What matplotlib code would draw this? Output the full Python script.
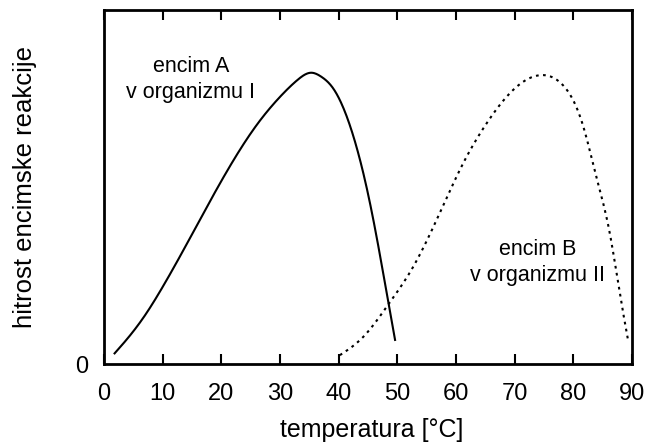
import matplotlib
matplotlib.use('Agg')
import matplotlib.pyplot as plt
import numpy as np

plt.rcParams['font.family'] = ['Liberation Sans', 'DejaVu Sans']

# enzyme A (solid)
temp_a = [1.8, 4.0, 7.0, 10.0, 14.0, 18.0, 22.0, 26.0, 30.0, 33.0, 35.3,
          37.0, 39.0, 41.0, 43.0, 45.0, 47.0, 48.5, 49.6]
rate_a = [3.0, 7.2, 13.8, 21.8, 33.6, 45.8, 57.4, 67.5, 75.5, 80.3, 82.3,
          81.2, 78.0, 71.5, 61.5, 48.0, 31.0, 17.0, 6.8]

# enzyme B (dotted)
temp_b = [40.2, 44.2, 48.4, 52.7, 57.2, 61.2, 65.2, 69.7, 74.3, 78.2, 81.7, 83.9, 86.2, 87.9, 89.3]
rate_b = [2.5, 7.7, 16.7, 27.5, 42.6, 56.7, 68.0, 77.4, 81.6, 78.8, 67.0, 52.9, 36.9, 20.0, 6.8]

xticks = [0, 10, 20, 30, 40, 50, 60, 70, 80, 90]


def spline(x, y, n=400):
    # natural cubic spline through the read points
    x = np.asarray(x, float)
    y = np.asarray(y, float)
    h = np.diff(x)
    m = len(x)
    A = np.zeros((m, m))
    r = np.zeros(m)
    A[0, 0] = A[-1, -1] = 1
    for i in range(1, m - 1):
        A[i, i - 1] = h[i - 1]
        A[i, i] = 2 * (h[i - 1] + h[i])
        A[i, i + 1] = h[i]
        r[i] = 6 * ((y[i + 1] - y[i]) / h[i] - (y[i] - y[i - 1]) / h[i - 1])
    M = np.linalg.solve(A, r)
    xs = np.linspace(x[0], x[-1], n)
    k = np.clip(np.searchsorted(x, xs) - 1, 0, m - 2)
    t = xs - x[k]
    b = (y[k + 1] - y[k]) / h[k] - h[k] * (2 * M[k] + M[k + 1]) / 6
    ys = y[k] + b * t + M[k] / 2 * t**2 + (M[k + 1] - M[k]) / (6 * h[k]) * t**3
    return xs, ys


fig = plt.figure(figsize=(6.51, 4.48), dpi=100)
ax = fig.add_axes([0.1598, 0.1875, 0.8112, 0.79])

xa, ya = spline(temp_a, rate_a)
xb, yb = spline(temp_b, rate_b)
ax.plot(xa, ya, color='black', lw=1.5)
ax.plot(xb, yb, color='black', lw=1.5, linestyle=(0, (1.3, 2.1)))

ax.set_xlim(0, 90)
ax.set_ylim(0, 100)
ax.set_xticks(xticks)
ax.set_yticks([0])
ax.tick_params(axis='x', direction='in', length=7, width=1.5, top=True,
               labelsize=17, pad=14)
ax.tick_params(axis='y', direction='in', length=0, labelsize=17, pad=11.5)
for s in ax.spines.values():
    s.set_linewidth(2.0)

ax.set_xlabel('temperatura [°C]', fontsize=18)
ax.xaxis.set_label_coords(0.506, -0.153)
ax.set_ylabel('hitrost encimske reakcije', fontsize=18.5)
ax.yaxis.set_label_coords(-0.127, 0.5)

# va='baseline' puts the last line on y
ax.text(14.8, 75.1, 'encim A\nv organizmu I', ha='center', va='baseline',
        fontsize=15.5, linespacing=1.3)
ax.text(73.9, 23.4, 'encim B\nv organizmu II', ha='center', va='baseline',
        fontsize=15.5, linespacing=1.3)

fig.savefig('out.png', dpi=100)
